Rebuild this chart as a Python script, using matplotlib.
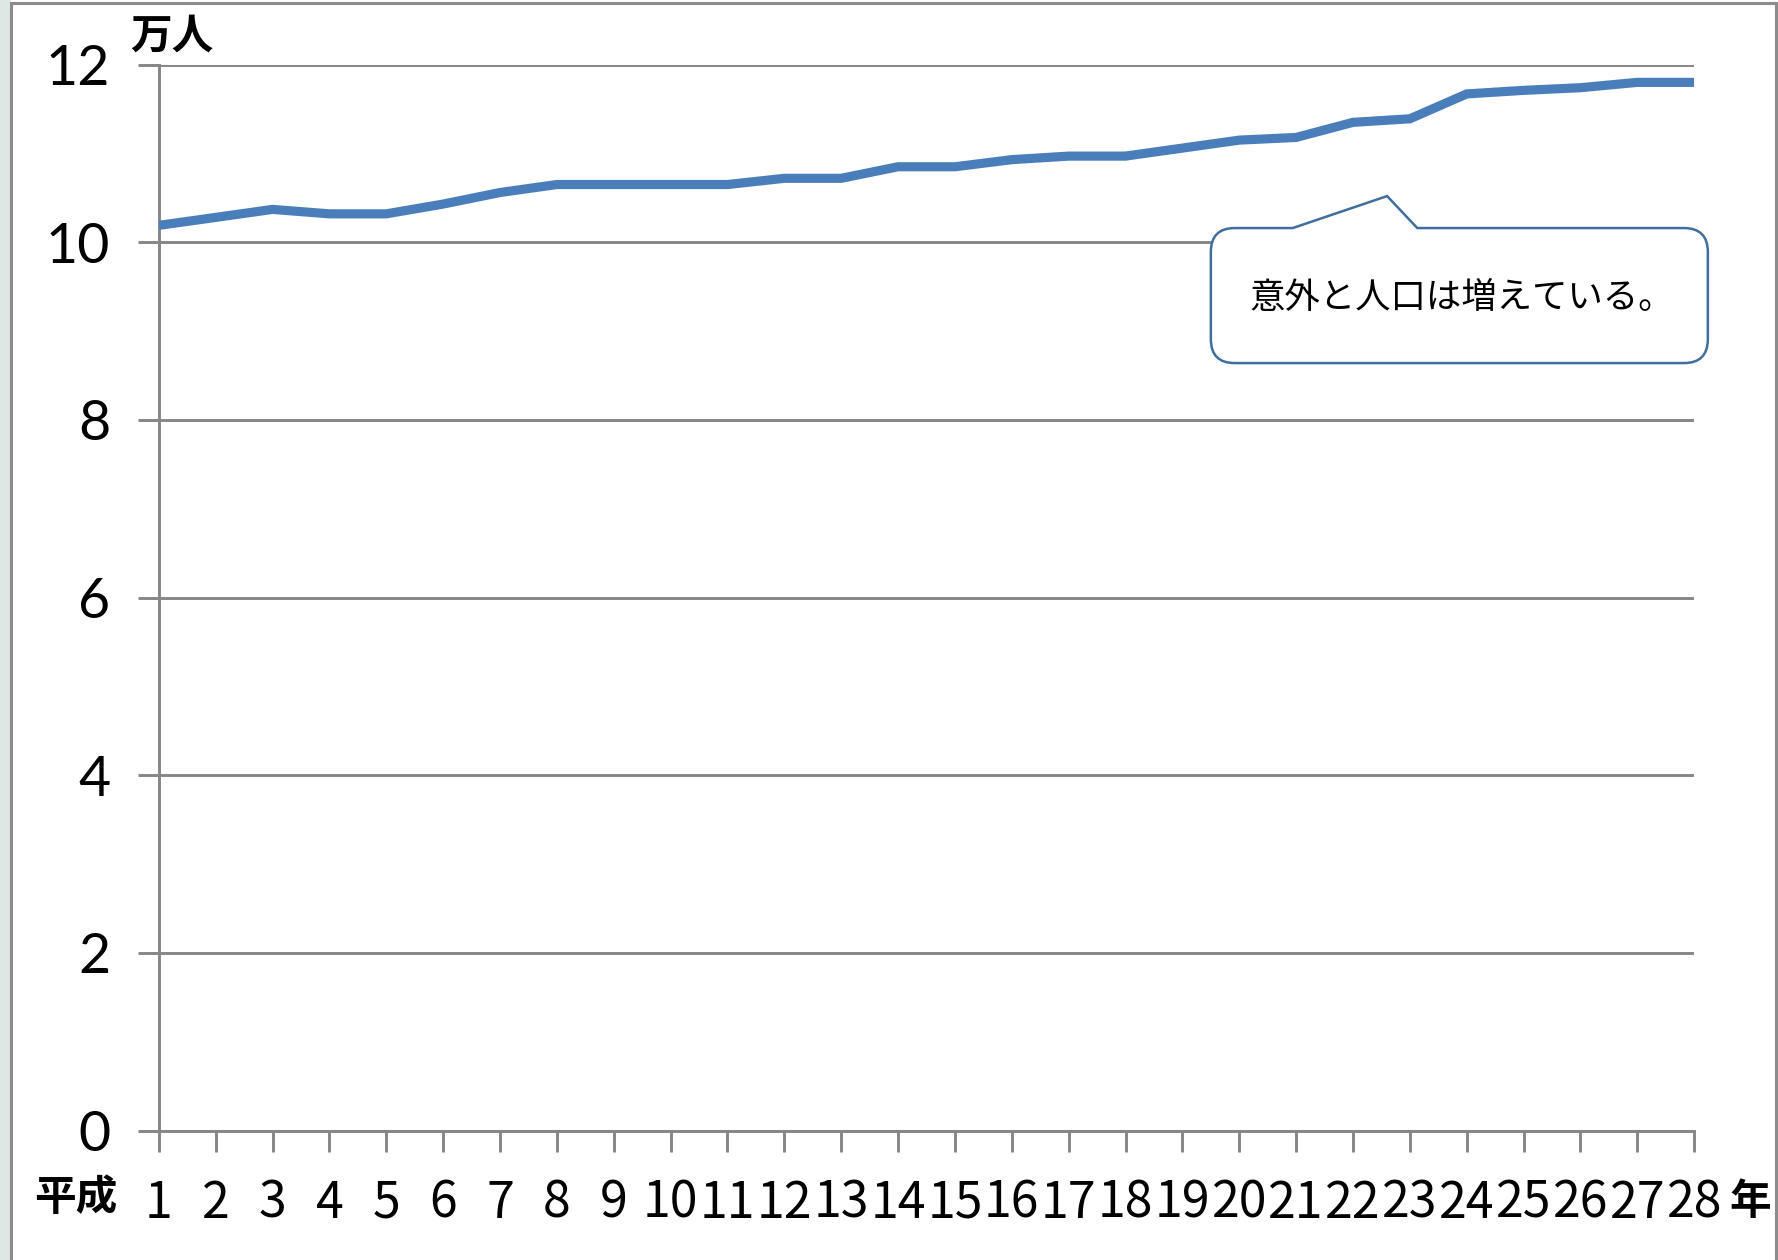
import matplotlib
matplotlib.use('Agg')
import matplotlib.pyplot as plt
from matplotlib.path import Path
from matplotlib.patches import PathPatch, Rectangle

# Population by year (Heisei 1-28), unit: 10,000 people
years = list(range(1, 29))
population = [10.19, 10.28, 10.37, 10.32, 10.32, 10.43, 10.56, 10.65, 10.65, 10.65,
              10.65, 10.72, 10.72, 10.85, 10.85, 10.93, 10.97, 10.97, 11.06, 11.15,
              11.18, 11.35, 11.39, 11.67, 11.71, 11.74, 11.80, 11.80]
y_ticks = [0, 2, 4, 6, 8, 10, 12]
callout_text = '意外と人口は増えている。'

plt.rcParams['font.family'] = ['Noto Sans CJK JP', 'DejaVu Sans']

W, H = 1778, 1260
fig = plt.figure(figsize=(W / 100, H / 100), dpi=100)
fig.patch.set_facecolor('white')

# left strip and outer chart border
fig.patches.append(Rectangle((0, 0), 11 / W, 1, transform=fig.transFigure,
                             facecolor='#dde7e3', edgecolor='none', zorder=0))
fig.patches.append(Rectangle((11 / W, -0.05), (1776 - 11) / W, 1.05 - 3 / H,
                             transform=fig.transFigure, facecolor='none',
                             edgecolor='#8c8c8c', linewidth=2.2, zorder=1))

ax = fig.add_axes([158.8 / W, 1 - 1130.6 / H, (1694.2 - 158.8) / W, (1130.6 - 64.6) / H])
ax.set_facecolor('none')

ax.plot(years, population, color='#4a7ebb', linewidth=6.6, solid_capstyle='butt',
        solid_joinstyle='miter', zorder=3)

ax.set_xlim(1, 28)
ax.set_ylim(0, 12)
ax.set_yticks(y_ticks)
ax.set_xticks(years)
ax.set_yticklabels([str(v) for v in y_ticks], fontsize=40, family=['Lato', 'DejaVu Sans'])
ax.set_xticklabels([str(v) for v in years], fontsize=36,
                   family=['Liberation Sans Narrow', 'Noto Sans CJK JP'])

grid_color = '#868686'
ax.yaxis.grid(True, color=grid_color, linewidth=2.1)
ax.set_axisbelow(True)
for side in ['top', 'right']:
    ax.spines[side].set_visible(False)
for side in ['left', 'bottom']:
    ax.spines[side].set_color(grid_color)
    ax.spines[side].set_linewidth(2.1)
ax.tick_params(axis='both', direction='out', length=15, width=2.1, color=grid_color,
               labelcolor='black')
ax.tick_params(axis='y', pad=20)
ax.tick_params(axis='x', pad=19)

# axis unit labels
fig.text(130 / W, 1 - 37 / H, '万人', fontsize=30, fontweight='bold', va='center', ha='left')
fig.text(76 / W, 1 - 1198 / H, '平成', fontsize=30, fontweight='bold', va='center', ha='center')
fig.text(1750 / W, 1 - 1202 / H, '年', fontsize=30, fontweight='bold', va='center', ha='center')

# speech bubble callout (data coords)
x0, x1 = 19.5, 28.24
y0, y1 = 8.64, 10.16
rx, ry = 0.42, 0.27
p1, tip, p2 = 20.94, (22.6, 10.52), 23.13
verts = [
    (x0 + rx, y1), (p1, y1), tip, (p2, y1), (x1 - rx, y1),
    (x1, y1), (x1, y1 - ry),
    (x1, y0 + ry),
    (x1, y0), (x1 - rx, y0),
    (x0 + rx, y0),
    (x0, y0), (x0, y0 + ry),
    (x0, y1 - ry),
    (x0, y1), (x0 + rx, y1),
]
codes = [Path.MOVETO, Path.LINETO, Path.LINETO, Path.LINETO, Path.LINETO,
         Path.CURVE3, Path.CURVE3,
         Path.LINETO,
         Path.CURVE3, Path.CURVE3,
         Path.LINETO,
         Path.CURVE3, Path.CURVE3,
         Path.LINETO,
         Path.CURVE3, Path.CURVE3]
bubble = PathPatch(Path(verts, codes), facecolor='white', edgecolor='#3f6e9e',
                   linewidth=1.8, clip_on=False, zorder=4)
ax.add_patch(bubble)
ax.text((x0 + x1) / 2 + 0.05, (y0 + y1) / 2 - 0.03, callout_text, fontsize=25.5,
        ha='center', va='center', zorder=5)

fig.savefig('out.png', dpi=100)
